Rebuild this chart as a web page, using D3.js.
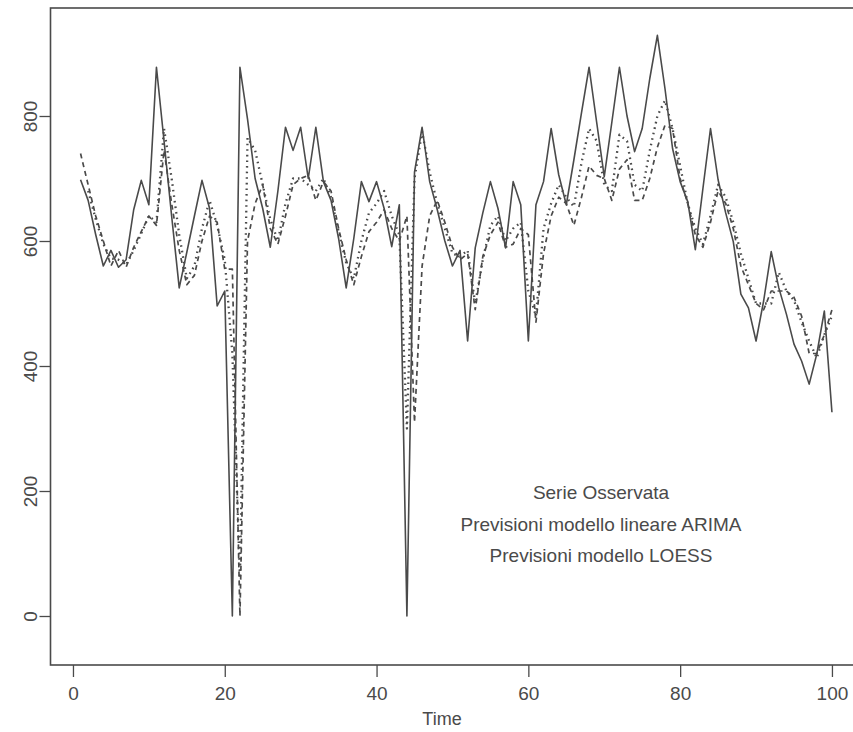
<!DOCTYPE html>
<html>
<head>
<meta charset="utf-8">
<script src="https://cdn.jsdelivr.net/npm/d3@7"></script>
<style>
  body { margin: 0; background: #fff; }
  svg { display: block; font-family: "Liberation Sans", Arial, sans-serif; }
</style>
</head>
<body>
<div id="chart"></div>
<script>
// time index 1..100
const time = d3.range(1, 101);

// observed series (solid)
const observed = [
  698, 665, 610, 560, 585, 558, 570, 650, 697, 658,
  878, 760, 640, 525, 582, 640, 697, 652, 496, 520,
  0, 878, 795, 700, 652, 590, 680, 782, 745, 782,
  700, 782, 695, 665, 604, 525, 604, 695, 663, 695,
  652, 591, 658, 0, 710, 782, 695, 650, 600, 560,
  585, 440, 589, 645, 695, 652, 589, 695, 658, 440,
  658, 695, 780, 706, 658, 730, 805, 878, 790, 703,
  790, 878, 800, 743, 780, 860, 929, 844, 748, 695,
  663, 586, 684, 780, 698, 645, 599, 515, 493, 440,
  504, 583, 525, 483, 435, 408, 371, 419, 488, 326
];

// ARIMA forecasts (dashed)
const arima = [
  740, 690, 640, 600, 560, 585, 558, 590, 615, 640,
  625, 745, 660, 585, 530, 545, 600, 640, 630, 555,
  555, 0, 600, 660, 690, 620, 595, 640, 690, 700,
  705, 665, 695, 680, 620, 570, 530, 575, 615, 630,
  650, 620, 600, 640, 310, 560, 640, 665, 630, 590,
  570, 580, 490, 575, 610, 630, 590, 595, 620, 610,
  470, 580, 640, 670, 660, 625, 670, 720, 705, 700,
  665, 715, 730, 665, 665, 700, 750, 785, 780, 700,
  660, 610, 590, 630, 680, 660, 620, 560, 530, 500,
  490, 520, 520, 520, 510, 480, 420, 420, 450, 490
];

// LOESS forecasts (dotted), none for the first point
const loess = [
  null, 680, 635, 595, 572, 570, 562, 585, 612, 640,
  630, 780, 700, 610, 540, 560, 620, 665, 625, 570,
  420, 60, 765, 745, 690, 635, 600, 660, 700, 700,
  690, 680, 700, 670, 615, 565, 540, 600, 645, 660,
  680, 640, 610, 300, 700, 775, 710, 660, 620, 580,
  575, 585, 500, 570, 625, 640, 600, 620, 630, 520,
  480, 620, 660, 690, 670, 655, 725, 780, 760, 690,
  680, 770, 760, 690, 680, 745, 800, 825, 780, 720,
  660, 620, 595, 640, 690, 670, 630, 580, 540, 500,
  500, 500, 550, 520, 505, 470, 440, 413, 450, 480
];

const xTicks = [0, 20, 40, 60, 80, 100];
const yTicks = [0, 200, 400, 600, 800];
const legendLabels = [
  "Serie Osservata",
  "Previsioni modello lineare ARIMA",
  "Previsioni modello LOESS"
];

const width = 853, height = 732;
const ink = "#4a4a4a";
const font = "'Liberation Sans', Arial, sans-serif";

const svg = d3.select("#chart").append("svg")
  .attr("width", width)
  .attr("height", height);

const x = d3.scaleLinear().domain([-2.96, 103.96]).range([50.5, 862]);
const y = d3.scaleLinear().domain([-78.4, 972.8]).range([665, 8]);

// plot frame (right side runs off the page)
svg.append("rect")
  .attr("x", x.range()[0])
  .attr("y", y.range()[1])
  .attr("width", x.range()[1] - x.range()[0])
  .attr("height", y.range()[0] - y.range()[1])
  .style("fill", "none")
  .style("stroke", ink)
  .style("stroke-width", 1.6);

// bottom axis
const xAxis = svg.append("g")
  .attr("transform", `translate(0, ${y.range()[0]})`)
  .call(d3.axisBottom(x).tickValues(xTicks).tickSize(12).tickPadding(10));
xAxis.select(".domain").remove();
xAxis.selectAll("line").style("stroke", ink).style("stroke-width", 1.3);
xAxis.selectAll("text")
  .style("fill", ink)
  .style("font-size", "19px")
  .style("font-family", font);

// left axis, labels rotated like R
const yAxis = svg.append("g")
  .attr("transform", `translate(${x.range()[0]}, 0)`)
  .call(d3.axisLeft(y).tickValues(yTicks).tickSize(11).tickPadding(0));
yAxis.select(".domain").remove();
yAxis.selectAll("line").style("stroke", ink).style("stroke-width", 1.3);
yAxis.selectAll("text")
  .attr("transform", "rotate(-90)")
  .attr("x", 0)
  .attr("y", -14)
  .attr("dy", "0")
  .style("text-anchor", "middle")
  .style("fill", ink)
  .style("font-size", "19px")
  .style("font-family", font);

svg.append("text")
  .attr("x", 442)
  .attr("y", 725)
  .style("text-anchor", "middle")
  .style("font-size", "18px")
  .style("fill", ink)
  .text("Time");

const line = d3.line()
  .defined(d => d[1] != null)
  .x(d => x(d[0]))
  .y(d => y(d[1]));

const series = [
  { values: observed, dash: null, width: 1.6 },
  { values: arima, dash: "5,4", width: 1.7 },
  { values: loess, dash: "1.6,4", width: 2.3 }
];

series.forEach(s => {
  svg.append("path")
    .datum(time.map((t, i) => [t, s.values[i]]))
    .attr("d", line)
    .style("fill", "none")
    .style("stroke", ink)
    .style("stroke-width", s.width)
    .style("stroke-linejoin", "round")
    .style("stroke-dasharray", s.dash);
});

// legend text (no keys, as in the original)
svg.append("g")
  .selectAll("text")
  .data(legendLabels)
  .join("text")
  .attr("x", 601)
  .attr("y", (d, i) => 499 + i * 31.5)
  .style("text-anchor", "middle")
  .style("font-size", "19px")
  .style("fill", ink)
  .text(d => d);
</script>
</body>
</html>
